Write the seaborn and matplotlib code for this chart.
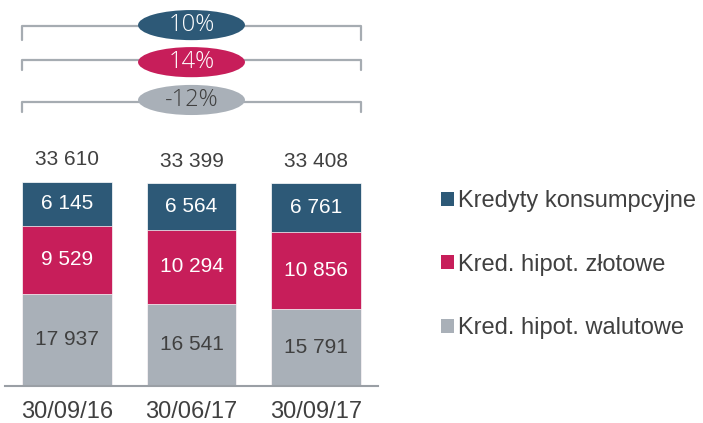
import pandas as pd
import seaborn as sns
import matplotlib.pyplot as plt
from matplotlib.patches import Ellipse, Patch
import matplotlib.transforms as mtransforms

dates = ["30/09/16", "30/06/17", "30/09/17"]
walutowe = [17937, 16541, 15791]
zlotowe = [9529, 10294, 10856]
konsumpcyjne = [6145, 6564, 6761]
totals = [33610, 33399, 33408]
series_names = ["Kredyty konsumpcyjne", "Kred. hipot. złotowe", "Kred. hipot. walutowe"]
changes = ["10%", "14%", "-12%"]

BLUE = "#2d5977"
RED = "#c71e5a"
GREY = "#a9b0b8"
TEXT = "#404040"

sns.set_style("white")
plt.rcParams['font.family'] = ['Liberation Sans', 'DejaVu Sans']

df = pd.DataFrame({"date": dates, "wal": walutowe, "zl": zlotowe, "kons": konsumpcyjne})
df["wal_zl"] = df["wal"] + df["zl"]
df["all"] = df["wal_zl"] + df["kons"]

fig = plt.figure(figsize=(7.03, 4.23), dpi=100)
ax = fig.add_axes([5 / 703, 1 - 386 / 423, 373 / 703, 386 / 423])

bw = 0.723
# stacked bars drawn as cumulative layers
sns.barplot(data=df, x="date", y="all", color=BLUE, saturation=1, width=bw, ax=ax,
            edgecolor="white", linewidth=0.5)
sns.barplot(data=df, x="date", y="wal_zl", color=RED, saturation=1, width=bw, ax=ax,
            edgecolor="white", linewidth=0.5)
sns.barplot(data=df, x="date", y="wal", color=GREY, saturation=1, width=bw, ax=ax,
            edgecolor="white", linewidth=0.5)

# value axis in the original does not start at zero
y0 = 5000
ax.set_xlim(-0.5, 2.5)
ax.set_ylim(y0, y0 + 386 * 140.2)
ax.set_xlabel("")
ax.set_ylabel("")
ax.set_yticks([])
for s in ["top", "left", "right"]:
    ax.spines[s].set_visible(False)
ax.spines["bottom"].set_color("#9a9fa5")
ax.spines["bottom"].set_linewidth(1.5)
ax.tick_params(axis="x", length=0, pad=11, labelsize=17, labelcolor=TEXT)

def fmt(v):
    return f"{v:,}".replace(",", " ")

for i in range(len(dates)):
    w, z, k = walutowe[i], zlotowe[i], konsumpcyjne[i]
    ax.text(i, (y0 + w) / 2, fmt(w), ha="center", va="center", fontsize=15, color=TEXT)
    ax.text(i, w + z / 2, fmt(z), ha="center", va="center", fontsize=15, color="white")
    ax.text(i, w + z + k / 2, fmt(k), ha="center", va="center", fontsize=15, color="white")
    ax.annotate(fmt(totals[i]), (i, w + z + k), xytext=(0, 16), textcoords="offset points",
                ha="center", va="center", fontsize=15, color=TEXT)

# growth brackets with ellipse labels
trans = mtransforms.blended_transform_factory(ax.transData, ax.transAxes)
left, right = -bw / 2, 2 + bw / 2
bracket_y = [0.933, 0.845, 0.736]
tick_h = [0.036, 0.027, 0.027]
ell_y = [0.935, 0.839, 0.741]
ell_cols = [BLUE, RED, GREY]
txt_cols = ["white", "white", TEXT]
for j in range(3):
    y = bracket_y[j]
    ax.plot([left, left, right, right], [y - tick_h[j], y, y, y - tick_h[j]],
            color="#a6acb2", lw=1.6, transform=trans, clip_on=False, zorder=1)
    e = Ellipse((1, ell_y[j]), 0.86, 0.078, transform=trans, facecolor=ell_cols[j],
                edgecolor="none", clip_on=False, zorder=2)
    ax.add_patch(e)
    ax.text(1, ell_y[j], changes[j], transform=trans, ha="center", va="center",
            fontsize=17, color=txt_cols[j], fontfamily=["Open Sans", "DejaVu Sans"],
            fontweight="light", zorder=3)

handles = [Patch(facecolor=c, edgecolor="none") for c in [BLUE, RED, GREY]]
fig.legend(handles, series_names, loc="upper left", bbox_to_anchor=(441 / 703, 1 - 190 / 423),
           frameon=False, fontsize=17, labelcolor=TEXT, handlelength=0.55, handleheight=0.55,
           handletextpad=0.15, labelspacing=1.76, borderpad=0, borderaxespad=0)

fig.savefig("out.png", dpi=100)
